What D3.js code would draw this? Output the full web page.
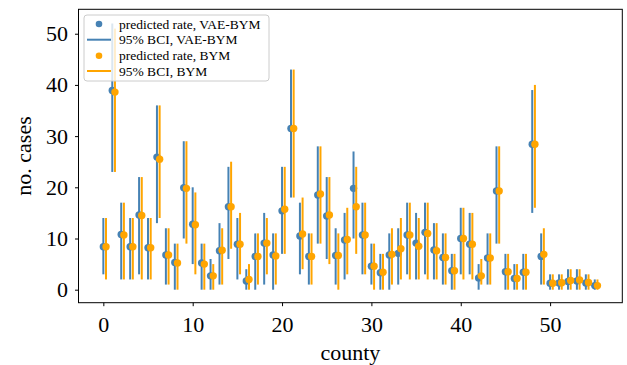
<!DOCTYPE html>
<html><head><meta charset="utf-8">
<script src="https://cdn.jsdelivr.net/npm/d3@7"></script>
<style>body{margin:0;background:#fff}svg{display:block}text{font-family:"Liberation Serif","Times New Roman",serif}</style>
</head><body><svg id="c" width="627" height="365"></svg>
<script>
const counties = d3.range(56);
const vaeMean = [8.4,38.9,10.8,8.4,14.6,8.2,25.9,6.8,5.3,19.9,12.8,5.2,2.7,7.6,16.2,8.9,1.7,6.5,9.1,6.8,15.4,31.5,10.5,6.5,18.5,14.4,6.7,9.7,19.8,10.7,4.6,3.3,6.8,7.1,10.7,9.1,11.2,7.75,6.3,3.7,10.0,8.9,2.3,6.2,19.3,3.5,2.2,3.4,28.4,6.5,1.25,1.3,1.6,1.7,1.3,0.8];
const vaeLo = [3,23,2,2,3,2,13,1,0,10,5,0,0,1,6,2,0,0,1,0,7,18,3,1,9,6,1,2,10,3,1,0,0,1,3,2,3,2,1,0,3,3,0,1,9,0,0,0,15,1,0,0,0,0,0,0];
const vaeHi = [14,52,17,14,22,14,36,12,9,29,20,9,6,13,24,14,4,11,15,11,24,43,17,11,28,22,12,15,27,17,9,7,11,12,17,15,17,13,11,7,16,15,5,11,28,7,5,7,39,11,3,3,4,4,3,2];
const bymMean = [8.4,38.6,10.7,8.4,14.5,8.2,25.5,6.8,5.2,19.8,12.7,5.0,2.7,7.7,16.2,8.9,2.0,6.5,9.1,6.6,15.7,31.5,10.9,6.5,18.7,14.6,6.7,9.8,16.2,10.7,4.6,3.4,6.9,8.0,10.7,8.5,11.0,7.6,6.3,3.7,10.0,8.9,2.7,6.2,19.3,3.5,2.2,3.4,28.4,6.9,1.25,1.35,1.8,1.9,1.4,0.8];
const bymLo = [2,23,2,2,2,2,14,1,0,9,3,0,0,1,8,3,0,1,3,1,7,18,4,1,9,5,0,3,7,3,0,0,1,2,2,2,2,2,1,0,2,2,1,1,9,0,0,0,16,1,0,0,0,0,0,0];
const bymHi = [14,51,17,14,22,14,36,12,9,29,19,9,5,12,25,15,5,11,14,11,24,43,18,11,28,22,11,16,24,17,9,7,12,14,17,14,17,13,11,7,16,15,6,11,28,7,5,7,40,12,3,3,4,4,3,2];
const xTicks = [0,10,20,30,40,50];
const yTicks = [0,10,20,30,40,50];
const legendLabels = ["predicted rate, VAE-BYM","95% BCI, VAE-BYM","predicted rate, BYM","95% BCI, BYM"];

const BLUE = "#4682b4", ORANGE = "#ffa500";
const L = 78.5, R = 622.3, T = 9.3, B = 302.7;
const x = d3.scaleLinear().domain([-2.78, 58.08]).range([L, R]);
const y = d3.scaleLinear().domain([-2.54, 54.77]).range([B, T]);
const off = 0.3;
const svg = d3.select("#c");

const g = svg.append("g");
function series(mean, lo, hi, dx, color){
  g.selectAll(null).data(counties).enter().append("circle")
    .attr("cx", i => x(i + dx)).attr("cy", i => y(mean[i])).attr("r", 3.7).attr("fill", color);
  g.selectAll(null).data(counties).enter().append("line")
    .attr("x1", i => x(i + dx)).attr("x2", i => x(i + dx))
    .attr("y1", i => y(lo[i])).attr("y2", i => y(hi[i]))
    .attr("stroke", color).attr("stroke-width", 2);
}
series(vaeMean, vaeLo, vaeHi, 0, BLUE);
series(bymMean, bymLo, bymHi, off, ORANGE);

// frame
svg.append("rect").attr("x", L).attr("y", T).attr("width", R - L).attr("height", B - T)
  .attr("fill", "none").attr("stroke", "#000").attr("stroke-width", 1);

// axes
const xAxis = svg.append("g").attr("transform", `translate(0,${B})`)
  .call(d3.axisBottom(x).tickValues(xTicks).tickSize(3.5).tickPadding(10).tickFormat(d3.format("d")));
const yAxis = svg.append("g").attr("transform", `translate(${L},0)`)
  .call(d3.axisLeft(y).tickValues(yTicks).tickSize(3.5).tickPadding(7).tickFormat(d3.format("d")));
[xAxis, yAxis].forEach(a => {
  a.select(".domain").remove();
  a.selectAll("text").attr("font-size", 22).attr("font-family", "Liberation Serif").attr("fill", "#000");
  a.selectAll("line").attr("stroke", "#000");
});

svg.append("text").attr("x", (L + R) / 2).attr("y", 360).attr("text-anchor", "middle")
  .attr("font-size", 22).text("county");
svg.append("text").attr("transform", `translate(31,${(T + B) / 2}) rotate(-90)`).attr("text-anchor", "middle")
  .attr("font-size", 22).text("no. cases");

// legend
const lg = svg.append("g");
lg.append("rect").attr("x", 84).attr("y", 15).attr("width", 185).attr("height", 66).attr("rx", 3)
  .attr("fill", "#fff").attr("fill-opacity", 0.8).attr("stroke", "#cccccc").attr("stroke-width", 1);
const rows = [24, 39.7, 55.7, 71];
const kinds = ["dot","line","dot","line"];
const cols = [BLUE, BLUE, ORANGE, ORANGE];
legendLabels.forEach((t, k) => {
  if (kinds[k] === "dot") lg.append("circle").attr("cx", 99).attr("cy", rows[k]).attr("r", 3.3).attr("fill", cols[k]);
  else lg.append("line").attr("x1", 87).attr("x2", 111).attr("y1", rows[k]).attr("y2", rows[k]).attr("stroke", cols[k]).attr("stroke-width", 2);
  lg.append("text").attr("x", 119).attr("y", rows[k] + 4.5).attr("font-size", 13.5).attr("fill", "#000").text(t);
});
</script></body></html>
